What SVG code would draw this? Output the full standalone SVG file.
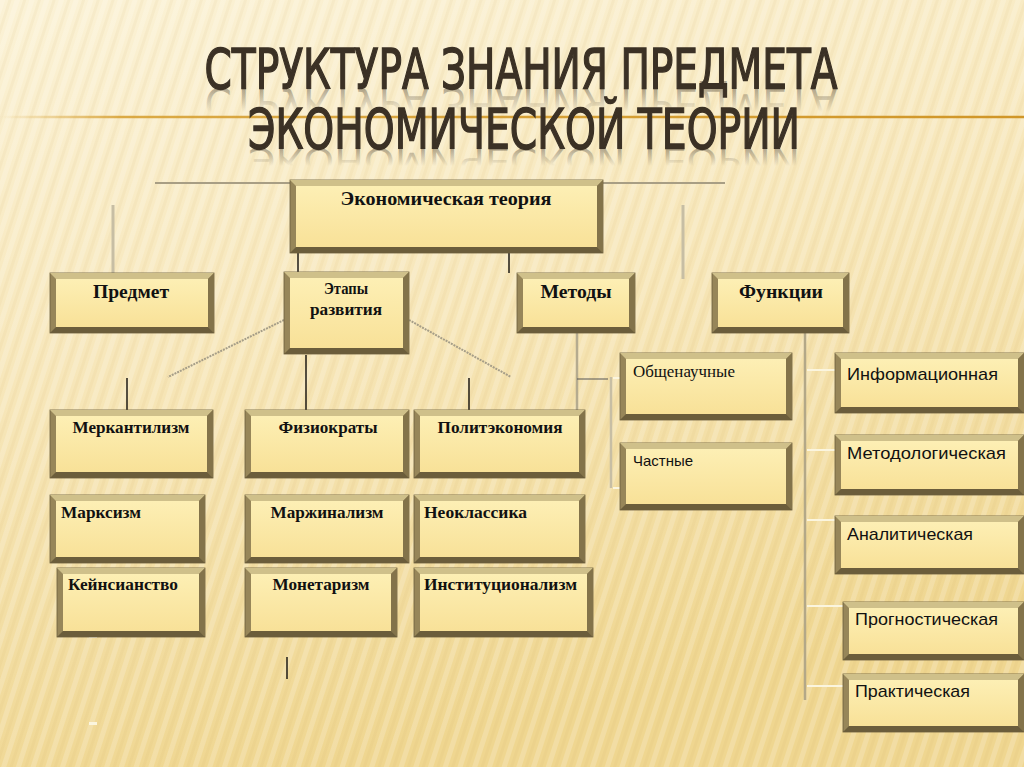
<svg xmlns="http://www.w3.org/2000/svg" width="1024" height="767" viewBox="0 0 1024 767">
<defs>
<linearGradient id="bg" x1="0" y1="0" x2="0.3" y2="1">
<stop offset="0" stop-color="#fbf2d6"/>
<stop offset="0.45" stop-color="#f7e7bb"/>
<stop offset="1" stop-color="#efd690"/>
</linearGradient>
<pattern id="stripes" width="14" height="14" patternUnits="userSpaceOnUse" patternTransform="rotate(18)">
<rect x="0" y="0" width="5" height="14" fill="#ffffff" opacity="0.18"/>
<rect x="8" y="0" width="3" height="14" fill="#c9a85a" opacity="0.08"/>
</pattern>
<linearGradient id="face" x1="0" y1="0" x2="0" y2="1">
<stop offset="0" stop-color="#fdefb4"/>
<stop offset="1" stop-color="#f8e198"/>
</linearGradient>
<linearGradient id="rule" gradientUnits="userSpaceOnUse" x1="0" y1="0" x2="1024" y2="0">
<stop offset="0" stop-color="#d59d2c" stop-opacity="0"/>
<stop offset="0.12" stop-color="#d59d2c" stop-opacity="0.85"/>
<stop offset="1" stop-color="#d09628"/>
</linearGradient>
<linearGradient id="refl1" gradientUnits="userSpaceOnUse" x1="0" y1="88" x2="0" y2="58">
<stop offset="0" stop-color="#3e3427" stop-opacity="0.4"/>
<stop offset="1" stop-color="#3e3427" stop-opacity="0"/>
</linearGradient>
<linearGradient id="refl2" gradientUnits="userSpaceOnUse" x1="0" y1="148" x2="0" y2="118">
<stop offset="0" stop-color="#3e3427" stop-opacity="0.4"/>
<stop offset="1" stop-color="#3e3427" stop-opacity="0"/>
</linearGradient>
</defs>
<style>
.bo{fill:#978659;stroke:#6c5e3c;stroke-width:0.8}
.bt{fill:#cfc08a}
.br{fill:#83734a}
.bb{fill:#6b5d3b}
.fc{fill:url(#face)}
.hb{font-family:"Liberation Serif","Times New Roman",serif;font-weight:bold;font-size:18px;fill:#111}
.hm{font-family:"Liberation Serif","Times New Roman",serif;font-weight:bold;font-size:16px;fill:#111}
.sr{font-family:"Liberation Serif","Times New Roman",serif;font-size:16px;fill:#111}
.ss{font-family:"Liberation Sans",Arial,sans-serif;font-size:17px;fill:#111}
.ttl{font-family:"Liberation Sans Narrow","DejaVu Sans Condensed","Liberation Sans",sans-serif;font-size:56px;fill:#3b3125}
.tm{stroke:#3b3125;stroke-width:1.4}
.gl{stroke:#a89e84;stroke-width:2;fill:none}
.gv{stroke:#c7bea4;stroke-width:3;fill:none}
.bk{stroke:#1e1a14;stroke-width:1.5;fill:none}
.dg{stroke:#a69e88;stroke-width:2;stroke-dasharray:2 1;fill:none}
.wl{stroke:#fbf5de;stroke-width:2;fill:none}
</style>
<rect x="0" y="0" width="1024" height="767" fill="url(#bg)"/>
<rect x="0" y="0" width="1024" height="767" fill="url(#stripes)"/>

<g id="title">
<text class="ttl" x="521" y="88" text-anchor="middle" textLength="633" lengthAdjust="spacingAndGlyphs" style="fill:url(#refl1)" transform="translate(0,158.4) scale(1,-0.8)">СТРУКТУРА ЗНАНИЯ ПРЕДМЕТА</text>
<line x1="0" y1="117" x2="1024" y2="117" stroke="url(#rule)" stroke-width="2.5"/>
<text class="ttl" x="524" y="148" text-anchor="middle" textLength="552" lengthAdjust="spacingAndGlyphs" style="fill:url(#refl2)" transform="translate(0,236.8) scale(1,-0.6)">ЭКОНОМИЧЕСКОЙ ТЕОРИИ</text>
<text class="ttl tm" x="521" y="88" text-anchor="middle" textLength="633" lengthAdjust="spacingAndGlyphs">СТРУКТУРА ЗНАНИЯ ПРЕДМЕТА</text>
<text class="ttl tm" x="524" y="148" text-anchor="middle" textLength="552" lengthAdjust="spacingAndGlyphs">ЭКОНОМИЧЕСКОЙ ТЕОРИИ</text>
</g>

<g id="connectors">
<line class="gl" x1="155" y1="183" x2="290" y2="183"/>
<line class="gl" x1="603" y1="183" x2="725" y2="183"/>
<line class="gv" x1="113" y1="205" x2="113" y2="275"/>
<line class="gv" x1="683" y1="205" x2="683" y2="279"/>
<line class="bk" x1="298" y1="253" x2="298" y2="272"/>
<line class="bk" x1="509" y1="253" x2="509" y2="273"/>
<line class="dg" x1="284" y1="320" x2="168" y2="377"/>
<line class="dg" x1="409" y1="320" x2="511" y2="377"/>
<line class="bk" x1="127" y1="378" x2="127" y2="410"/>
<line class="bk" x1="306" y1="355" x2="306" y2="410"/>
<line class="bk" x1="469" y1="378" x2="469" y2="410"/>
<line class="gv" x1="577" y1="333" x2="577" y2="410" style="stroke:#b5ab8f;stroke-width:2.5"/>
<line x1="577" y1="379" x2="608" y2="379" stroke="#555" stroke-width="1"/>
<line class="gv" x1="611" y1="377" x2="611" y2="488" style="stroke-width:2.5"/>
<line class="wl" x1="613" y1="378" x2="620" y2="378"/>
<line class="wl" x1="613" y1="488" x2="620" y2="488"/>
<line class="gv" x1="805" y1="333" x2="805" y2="700" style="stroke:#b3a888;stroke-width:2.5"/>
<line class="wl" x1="807" y1="370" x2="835" y2="370"/>
<line class="wl" x1="807" y1="450" x2="835" y2="450"/>
<line class="wl" x1="807" y1="520" x2="835" y2="520"/>
<line class="wl" x1="807" y1="606" x2="843" y2="606"/>
<line class="wl" x1="807" y1="686" x2="843" y2="686"/>
<rect x="89" y="635" width="8" height="3" fill="#fbf5de"/>
<rect x="89" y="722" width="8" height="3" fill="#fbf5de"/>
<line x1="287" y1="657" x2="287" y2="679" stroke="#1e1a14" stroke-width="1.5"/>
</g>

<g id="node-econ-theory">
<rect class="bo" x="290" y="180" width="313" height="73"/>
<polygon class="bt" points="290,180 603,180 597,186 296,186"/>
<polygon class="br" points="603,180 603,253 597,247 597,186"/>
<polygon class="bb" points="290,253 603,253 597,247 296,247"/>
<rect class="fc" x="296" y="186" width="301" height="61"/>
<text class="hb" x="446" y="205" text-anchor="middle" textLength="211" lengthAdjust="spacingAndGlyphs">Экономическая теория</text>
</g>

<g id="node-predmet">
<rect class="bo" x="50" y="273" width="164" height="60"/>
<polygon class="bt" points="50,273 214,273 208,279 56,279"/>
<polygon class="br" points="214,273 214,333 208,327 208,279"/>
<polygon class="bb" points="50,333 214,333 208,327 56,327"/>
<rect class="fc" x="56" y="279" width="152" height="48"/>
<text class="hb" x="131" y="298" text-anchor="middle" textLength="76" lengthAdjust="spacingAndGlyphs">Предмет</text>
</g>

<g id="node-etapy">
<rect class="bo" x="284" y="272" width="125" height="82"/>
<polygon class="bt" points="284,272 409,272 403,278 290,278"/>
<polygon class="br" points="409,272 409,354 403,348 403,278"/>
<polygon class="bb" points="284,354 409,354 403,348 290,348"/>
<rect class="fc" x="290" y="278" width="113" height="70"/>
<text class="hm" x="346" y="294" text-anchor="middle" textLength="44" lengthAdjust="spacingAndGlyphs">Этапы</text>
<text class="hm" x="346" y="315" text-anchor="middle" textLength="72" lengthAdjust="spacingAndGlyphs">развития</text>
</g>

<g id="node-metody">
<rect class="bo" x="517" y="273" width="118" height="60"/>
<polygon class="bt" points="517,273 635,273 629,279 523,279"/>
<polygon class="br" points="635,273 635,333 629,327 629,279"/>
<polygon class="bb" points="517,333 635,333 629,327 523,327"/>
<rect class="fc" x="523" y="279" width="106" height="48"/>
<text class="hb" x="576" y="298" text-anchor="middle" textLength="71" lengthAdjust="spacingAndGlyphs">Методы</text>
</g>

<g id="node-funktsii">
<rect class="bo" x="712" y="273" width="137" height="60"/>
<polygon class="bt" points="712,273 849,273 843,279 718,279"/>
<polygon class="br" points="849,273 849,333 843,327 843,279"/>
<polygon class="bb" points="712,333 849,333 843,327 718,327"/>
<rect class="fc" x="718" y="279" width="125" height="48"/>
<text class="hb" x="781" y="298" text-anchor="middle" textLength="84" lengthAdjust="spacingAndGlyphs">Функции</text>
</g>

<g id="node-obshchenauchnye">
<rect class="bo" x="620" y="353" width="172" height="67"/>
<polygon class="bt" points="620,353 792,353 786,359 626,359"/>
<polygon class="br" points="792,353 792,420 786,414 786,359"/>
<polygon class="bb" points="620,420 792,420 786,414 626,414"/>
<rect class="fc" x="626" y="359" width="160" height="55"/>
<text class="sr" x="633" y="377" textLength="102" lengthAdjust="spacingAndGlyphs">Общенаучные</text>
</g>

<g id="node-chastnye">
<rect class="bo" x="620" y="443" width="172" height="67"/>
<polygon class="bt" points="620,443 792,443 786,449 626,449"/>
<polygon class="br" points="792,443 792,510 786,504 786,449"/>
<polygon class="bb" points="620,510 792,510 786,504 626,504"/>
<rect class="fc" x="626" y="449" width="160" height="55"/>
<text class="ss" x="633" y="466" style="font-size:15px" textLength="60" lengthAdjust="spacingAndGlyphs">Частные</text>
</g>

<g id="node-informatsionnaya">
<rect class="bo" x="835" y="353" width="189" height="60"/>
<polygon class="bt" points="835,353 1024,353 1018,359 841,359"/>
<polygon class="br" points="1024,353 1024,413 1018,407 1018,359"/>
<polygon class="bb" points="835,413 1024,413 1018,407 841,407"/>
<rect class="fc" x="841" y="359" width="177" height="48"/>
<text class="ss" x="847" y="380" textLength="151" lengthAdjust="spacingAndGlyphs">Информационная</text>
</g>

<g id="node-metodologicheskaya">
<rect class="bo" x="835" y="435" width="189" height="60"/>
<polygon class="bt" points="835,435 1024,435 1018,441 841,441"/>
<polygon class="br" points="1024,435 1024,495 1018,489 1018,441"/>
<polygon class="bb" points="835,495 1024,495 1018,489 841,489"/>
<rect class="fc" x="841" y="441" width="177" height="48"/>
<text class="ss" x="847" y="459" textLength="159" lengthAdjust="spacingAndGlyphs">Методологическая</text>
</g>

<g id="node-analiticheskaya">
<rect class="bo" x="835" y="516" width="189" height="58"/>
<polygon class="bt" points="835,516 1024,516 1018,522 841,522"/>
<polygon class="br" points="1024,516 1024,574 1018,568 1018,522"/>
<polygon class="bb" points="835,574 1024,574 1018,568 841,568"/>
<rect class="fc" x="841" y="522" width="177" height="46"/>
<text class="ss" x="847" y="540" textLength="126" lengthAdjust="spacingAndGlyphs">Аналитическая</text>
</g>

<g id="node-prognosticheskaya">
<rect class="bo" x="843" y="602" width="181" height="58"/>
<polygon class="bt" points="843,602 1024,602 1018,608 849,608"/>
<polygon class="br" points="1024,602 1024,660 1018,654 1018,608"/>
<polygon class="bb" points="843,660 1024,660 1018,654 849,654"/>
<rect class="fc" x="849" y="608" width="169" height="46"/>
<text class="ss" x="855" y="625" textLength="143" lengthAdjust="spacingAndGlyphs">Прогностическая</text>
</g>

<g id="node-prakticheskaya">
<rect class="bo" x="843" y="674" width="181" height="58"/>
<polygon class="bt" points="843,674 1024,674 1018,680 849,680"/>
<polygon class="br" points="1024,674 1024,732 1018,726 1018,680"/>
<polygon class="bb" points="843,732 1024,732 1018,726 849,726"/>
<rect class="fc" x="849" y="680" width="169" height="46"/>
<text class="ss" x="855" y="697" textLength="115" lengthAdjust="spacingAndGlyphs">Практическая</text>
</g>

<g id="node-merkantilizm">
<rect class="bo" x="50" y="410" width="163" height="68"/>
<polygon class="bt" points="50,410 213,410 207,416 56,416"/>
<polygon class="br" points="213,410 213,478 207,472 207,416"/>
<polygon class="bb" points="50,478 213,478 207,472 56,472"/>
<rect class="fc" x="56" y="416" width="151" height="56"/>
<text class="hm" x="131" y="433" text-anchor="middle" textLength="117" lengthAdjust="spacingAndGlyphs">Меркантилизм</text>
</g>

<g id="node-fiziokraty">
<rect class="bo" x="245" y="410" width="164" height="68"/>
<polygon class="bt" points="245,410 409,410 403,416 251,416"/>
<polygon class="br" points="409,410 409,478 403,472 403,416"/>
<polygon class="bb" points="245,478 409,478 403,472 251,472"/>
<rect class="fc" x="251" y="416" width="152" height="56"/>
<text class="hm" x="328" y="433" text-anchor="middle" textLength="99" lengthAdjust="spacingAndGlyphs">Физиократы</text>
</g>

<g id="node-politekonomiya">
<rect class="bo" x="414" y="410" width="171" height="68"/>
<polygon class="bt" points="414,410 585,410 579,416 420,416"/>
<polygon class="br" points="585,410 585,478 579,472 579,416"/>
<polygon class="bb" points="414,478 585,478 579,472 420,472"/>
<rect class="fc" x="420" y="416" width="159" height="56"/>
<text class="hm" x="500" y="433" text-anchor="middle" textLength="125" lengthAdjust="spacingAndGlyphs">Политэкономия</text>
</g>

<g id="node-marksizm">
<rect class="bo" x="50" y="495" width="155" height="68"/>
<polygon class="bt" points="50,495 205,495 199,501 56,501"/>
<polygon class="br" points="205,495 205,563 199,557 199,501"/>
<polygon class="bb" points="50,563 205,563 199,557 56,557"/>
<rect class="fc" x="56" y="501" width="143" height="56"/>
<text class="hm" x="61" y="518" textLength="80" lengthAdjust="spacingAndGlyphs">Марксизм</text>
</g>

<g id="node-marzhinalizm">
<rect class="bo" x="245" y="495" width="164" height="68"/>
<polygon class="bt" points="245,495 409,495 403,501 251,501"/>
<polygon class="br" points="409,495 409,563 403,557 403,501"/>
<polygon class="bb" points="245,563 409,563 403,557 251,557"/>
<rect class="fc" x="251" y="501" width="152" height="56"/>
<text class="hm" x="327" y="518" text-anchor="middle" textLength="113" lengthAdjust="spacingAndGlyphs">Маржинализм</text>
</g>

<g id="node-neoklassika">
<rect class="bo" x="414" y="495" width="171" height="68"/>
<polygon class="bt" points="414,495 585,495 579,501 420,501"/>
<polygon class="br" points="585,495 585,563 579,557 579,501"/>
<polygon class="bb" points="414,563 585,563 579,557 420,557"/>
<rect class="fc" x="420" y="501" width="159" height="56"/>
<text class="hm" x="424" y="518" textLength="103" lengthAdjust="spacingAndGlyphs">Неоклассика</text>
</g>

<g id="node-keynsianstvo">
<rect class="bo" x="57" y="568" width="148" height="69"/>
<polygon class="bt" points="57,568 205,568 199,574 63,574"/>
<polygon class="br" points="205,568 205,637 199,631 199,574"/>
<polygon class="bb" points="57,637 205,637 199,631 63,631"/>
<rect class="fc" x="63" y="574" width="136" height="57"/>
<text class="hm" x="68" y="590" textLength="110" lengthAdjust="spacingAndGlyphs">Кейнсианство</text>
</g>

<g id="node-monetarizm">
<rect class="bo" x="245" y="568" width="152" height="69"/>
<polygon class="bt" points="245,568 397,568 391,574 251,574"/>
<polygon class="br" points="397,568 397,637 391,631 391,574"/>
<polygon class="bb" points="245,637 397,637 391,631 251,631"/>
<rect class="fc" x="251" y="574" width="140" height="57"/>
<text class="hm" x="321" y="590" text-anchor="middle" textLength="97" lengthAdjust="spacingAndGlyphs">Монетаризм</text>
</g>

<g id="node-institutsionalizm">
<rect class="bo" x="414" y="568" width="179" height="69"/>
<polygon class="bt" points="414,568 593,568 587,574 420,574"/>
<polygon class="br" points="593,568 593,637 587,631 587,574"/>
<polygon class="bb" points="414,637 593,637 587,631 420,631"/>
<rect class="fc" x="420" y="574" width="167" height="57"/>
<text class="hm" x="424" y="590" textLength="153" lengthAdjust="spacingAndGlyphs">Институционализм</text>
</g>
</svg>
